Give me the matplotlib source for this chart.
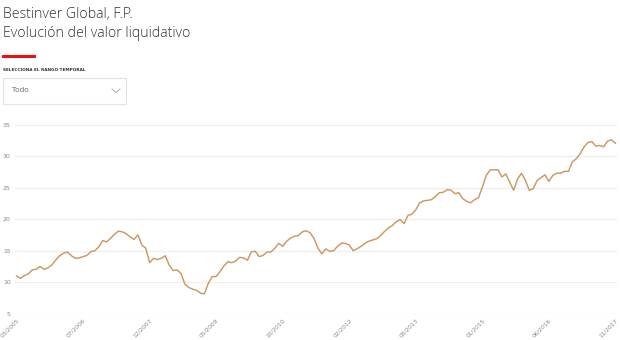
import matplotlib
matplotlib.use("Agg")
import matplotlib.pyplot as plt
import numpy as np
from matplotlib.patches import Rectangle
from matplotlib.lines import Line2D

title1 = "Bestinver Global, F.P."
title2 = "Evolución del valor liquidativo"
selector_label = "SELECCIONA EL RANGO TEMPORAL"
selector_value = "Todo"

x_labels = ["03/2005", "07/2006", "12/2007", "05/2009", "10/2010",
            "02/2012", "08/2013", "01/2015", "06/2016", "11/2017"]
y_ticks = [5, 10, 15, 20, 25, 30, 35]

values = [
    11.0, 10.6, 11.05, 11.3, 11.95, 12.05, 12.5, 12.05, 12.26, 12.74,
    13.5, 14.2, 14.6, 14.8, 14.2, 13.8, 13.85, 14.05, 14.26, 14.84,
    15.0, 15.6, 16.6, 16.4, 16.95, 17.6, 18.1, 18.0, 17.7, 17.2,
    16.8, 17.5, 15.9, 15.4, 13.1, 13.8, 13.6, 13.8, 14.2, 12.7,
    11.85, 11.95, 11.4, 9.7, 9.16, 8.9, 8.7, 8.26, 8.16, 9.84,
    10.9, 10.9, 11.7, 12.6, 13.26, 13.1, 13.37, 13.95, 13.85, 13.5,
    14.84, 14.9, 14.05, 14.26, 14.8, 14.8, 15.4, 16.16, 15.7, 16.5,
    17.0, 17.3, 17.4, 18.0, 18.16, 17.84, 16.95, 15.4, 14.5, 15.3,
    14.9, 15.0, 15.7, 16.2, 16.16, 15.9, 15.0, 15.3, 15.7, 16.16,
    16.5, 16.7, 16.9, 17.4, 18.05, 18.6, 19.0, 19.6, 19.95, 19.3,
    20.6, 20.8, 21.5, 22.6, 22.9, 23.0, 23.1, 23.6, 24.2, 24.26,
    24.7, 24.6, 24.05, 24.2, 23.26, 22.84, 22.6, 23.1, 23.4, 25.1,
    26.95, 27.84, 27.84, 27.84, 26.7, 27.2, 25.84, 24.6, 26.4, 27.3,
    26.16, 24.6, 24.84, 26.16, 26.6, 27.05, 26.0, 26.95, 27.3, 27.3,
    27.6, 27.6, 29.1, 29.6, 30.4, 31.5, 32.2, 32.3, 31.6, 31.7,
    31.5, 32.4, 32.6, 32.05,
]

fig = plt.figure(figsize=(6.2, 3.4), dpi=100)
fig.patch.set_facecolor("white")

tfont = "Open Sans"
fig.text(3/620, 1 - 14/340, title1, fontsize=10.2, color="#333333",
         family=tfont, va="center", ha="left", fontweight="light")
fig.text(3/620, 1 - 33.5/340, title2, fontsize=10.2, color="#333333",
         family=tfont, va="center", ha="left", fontweight="light")
fig.add_artist(Line2D([3/620, 34/620], [1 - 56/340, 1 - 56/340],
                      color="#ee1111", lw=2.2, transform=fig.transFigure))
fig.text(3/620, 1 - 70/340, selector_label, fontsize=3.1, color="#333333",
         family="DejaVu Sans", fontweight="bold", va="center", ha="left")
fig.add_artist(Rectangle((3/620, 1 - 103.5/340), 123/620, 25.5/340,
                         transform=fig.transFigure, fill=False,
                         edgecolor="#e2e2e2", lw=0.8))
fig.text(12/620, 1 - 91/340, selector_value, fontsize=5.5, color="#666666",
         family=tfont, va="center", ha="left")
fig.add_artist(Line2D([112/620, 116/620, 120/620],
                      [1 - 89/340, 1 - 92.5/340, 1 - 89/340],
                      color="#b0b0b0", lw=0.7, transform=fig.transFigure))

ax = fig.add_axes([15/620, 1 - 313.7/340, 602/620, (313.7 - 124.7)/340])
n = len(values)
x = np.arange(n)
ax.plot(x, values, color="#cc9864", lw=1.05, solid_joinstyle="round")
ax.set_ylim(5, 35)
ax.set_xlim(-0.4, n - 1 + 0.4)
ax.set_yticks(y_ticks)
ax.set_yticklabels([str(v) for v in y_ticks], fontsize=4.5, color="#888888")
ax.set_xticks(np.linspace(0, n - 1, len(x_labels)))
ax.set_xticklabels(x_labels, fontsize=4.2, color="#888888", rotation=45,
                   ha="right", rotation_mode="anchor")
ax.tick_params(axis="both", length=0, pad=3)
ax.grid(axis="y", color="#eeeeee", lw=0.9)
ax.set_axisbelow(True)
for s in ax.spines.values():
    s.set_visible(False)

fig.savefig("out.png", dpi=100, facecolor="white")
